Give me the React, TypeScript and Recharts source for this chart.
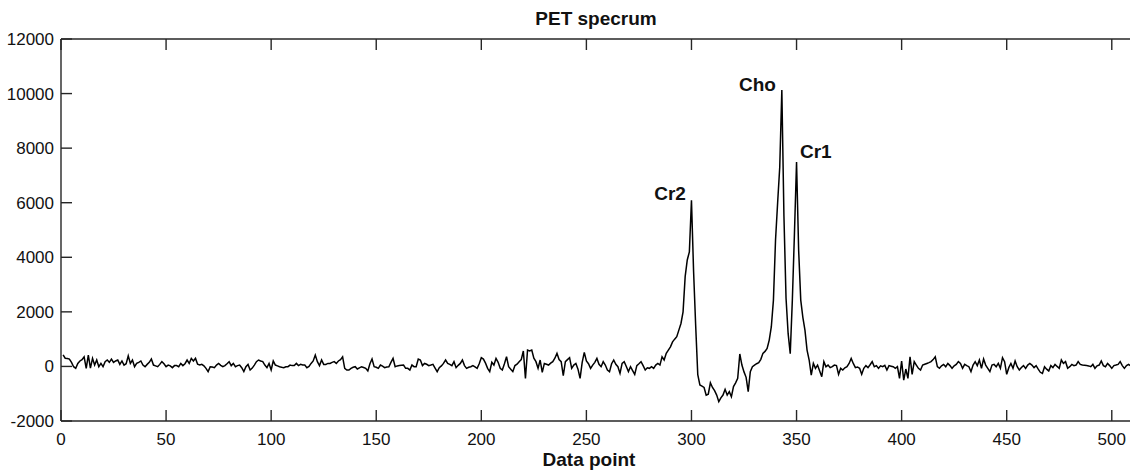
import React from 'react';
import { LineChart, Line, XAxis, YAxis, ReferenceDot } from 'recharts';

// spectrum amplitude per data point (point 1..512)
const signal: number[] = [
  420, 300, 290, 270, 150, -10, -70, 110, 200, 250,
  355, -70, 415, -60, 295, 50, 235, -10, 110, -10,
  175, 235, 150, 270, 150, 200, 235, 75, 200, 50,
  100, 390, 110, 235, -10, 110, 150, 200, 50, -10,
  75, 150, 270, 50, 20, -10, 75, 175, 100, -10,
  50, 20, -45, 30, 30, -10, 110, 30, 100, 235,
  110, 295, 200, 295, 80, 50, 75, 20, -70, -190,
  -10, -20, -45, 50, 110, 40, -10, 30, 100, 175,
  30, 110, -10, 30, 50, -45, -190, -10, 75, -130,
  -60, 50, 175, 235, 200, 175, 50, -45, 110, -130,
  200, 50, 20, -10, -30, -45, -10, -10, 50, 30,
  30, 110, 30, 75, 50, 50, -45, 0, 110, 200,
  415, 175, 30, 235, 75, 75, 110, 110, 150, 175,
  110, 200, 250, 355, -70, -130, -130, -70, -30, -10,
  -95, -50, -10, -40, -70, -165, 100, 270, -10, -30,
  -70, 50, 10, -45, -20, -10, 150, 295, -10, 20,
  30, 40, 50, -70, -70, -130, 50, -10, -10, 270,
  235, 30, 110, 80, 30, 50, 75, -60, -190, -45,
  20, 110, 235, 110, 75, 30, 175, -45, 40, 110,
  235, 30, -70, -30, -10, 30, -20, -70, 100, 320,
  270, 120, -70, -190, 150, 50, 295, 150, -70, -130,
  100, 355, -10, -100, -190, 30, 80, 175, 250, 565,
  -440, 600, 565, 600, 300, 175, -70, 235, -215, 110,
  80, 50, 120, 175, 300, 480, 250, 175, -340, 175,
  250, 320, -70, 50, 110, -100, -440, 150, 515, 200,
  100, -70, 50, 150, 295, 80, -10, 175, 50, -130,
  -190, 100, 235, 80, -10, -255, 110, 175, 0, -190,
  -10, -150, -290, 30, 100, 175, 30, -130, -50, -70,
  -10, -70, 50, 110, 50, 355, 235, 480, 600, 720,
  900, 1000, 1090, 1330, 1575, 2000, 3290, 3900, 4200, 6090,
  3500, 1500, -300, -680, -720, -770, -1050, -1015, -600, -770,
  -890, -1050, -1290, -1150, -1050, -840, -1050, -925, -1110, -740,
  -600, -435, 455, 50, -200, -400, -925, -195, -10, 50,
  100, 135, 260, 480, 550, 660, 965, 1455, 2430, 4630,
  6000, 7300, 10130, 5500, 2500, 1200, 470, 2430, 4870, 7490,
  4260, 2430, 1800, 1330, 600, 235, -320, 110, -70, 50,
  -165, -375, 175, -10, 50, -45, -10, 50, 30, -290,
  -70, -130, -50, -10, 110, 295, 110, -45, -20, -70,
  -290, -70, 30, -45, 60, 175, -10, 30, -70, 20,
  -10, 40, -130, 30, 10, -10, -70, -10, -440, 200,
  -500, -95, -440, 355, -290, 175, 50, -70, -130, 50,
  80, 110, 140, 175, 250, 355, -10, -70, 20, 75,
  -10, 110, 30, -70, 20, 75, 175, 110, -70, 75,
  30, -10, -190, 50, 175, 30, 235, -70, 270, 50,
  -70, -190, 50, 75, -10, 110, -70, 320, 175, -290,
  -45, 110, -70, 200, -10, -130, -40, 30, -70, 50,
  110, 50, -45, 30, -100, -215, -255, -10, -100, -165,
  30, -45, 75, 0, -70, 235, 110, 175, -70, -10,
  75, 30, 50, 175, 75, 50, 40, 30, 20, -10,
  75, -70, 20, 50, 200, 30, -10, 110, 30, -70,
  30, 50, 75, 175, 30, -70, 30, 75, 20, 100,
  -30, 50,
];

const xTicks = [0, 50, 100, 150, 200, 250, 300, 350, 400, 450, 500];
const yTicks = [-2000, 0, 2000, 4000, 6000, 8000, 10000, 12000];

// peak names and where their text sits
const peakNames = ['Cr2', 'Cho', 'Cr1'];
const peakPoints = [298.8, 341.6, 350.2];
const peakValues = [6330, 10350, 7870];
const peakSides = ['left', 'left', 'right'];

const data = signal.map((value, k) => ({ point: k + 1, value }));

const font = '"Liberation Sans", Arial, Helvetica, sans-serif';
const axisColor = '#262626';

export default function App() {
  return (
    <div style={{ position: 'fixed', left: 0, top: 0, width: 1130, height: 470, overflow: 'hidden', background: '#fff', fontFamily: font }}>
      <LineChart width={1140} height={470} data={data} margin={{ top: 9, right: 0, bottom: 0, left: 0 }}>
        <XAxis
          xAxisId="bottom"
          dataKey="point"
          type="number"
          domain={[0, 512]}
          ticks={xTicks}
          interval={0}
          height={49}
          tickSize={-11}
          tickMargin={23}
          stroke={axisColor}
          strokeWidth={1.4}
          tick={{ fill: '#111', fontSize: 17, fontFamily: font }}
          label={{ value: 'Data point', position: 'insideBottom', offset: 4, dx: -10, fontSize: 19, fontWeight: 'bold', fill: '#111', fontFamily: font }}
        />
        <XAxis
          xAxisId="top"
          orientation="top"
          dataKey="point"
          type="number"
          domain={[0, 512]}
          ticks={xTicks}
          interval={0}
          height={30}
          tickSize={-11}
          tickFormatter={() => ''}
          stroke={axisColor}
          strokeWidth={1.4}
          label={{ value: 'PET specrum', position: 'insideTop', offset: 3, dx: -3, fontSize: 19, fontWeight: 'bold', fill: '#111', fontFamily: font }}
        />
        <YAxis
          yAxisId="left"
          type="number"
          domain={[-2000, 12000]}
          ticks={yTicks}
          interval={0}
          width={61}
          tickSize={-11}
          tickMargin={18}
          stroke={axisColor}
          strokeWidth={1.4}
          tick={{ fill: '#111', fontSize: 17, fontFamily: font }}
        />
        <YAxis
          yAxisId="right"
          orientation="right"
          type="number"
          domain={[-2000, 12000]}
          ticks={yTicks}
          interval={0}
          width={3}
          tickSize={-11}
          tickFormatter={() => ''}
          stroke={axisColor}
          strokeWidth={1.4}
        />
        <Line
          xAxisId="bottom"
          yAxisId="left"
          type="linear"
          dataKey="value"
          stroke="#000"
          strokeWidth={1.5}
          dot={false}
          isAnimationActive={false}
        />
        {peakNames.map((name, k) => (
          <ReferenceDot
            key={name}
            xAxisId="bottom"
            yAxisId="left"
            x={peakPoints[k]}
            y={peakValues[k]}
            r={1}
            fill="none"
            stroke="none"
            label={{ value: name, position: peakSides[k], offset: 2, fontSize: 19, fontWeight: 'bold', fill: '#111', fontFamily: font }}
          />
        ))}
      </LineChart>
    </div>
  );
}
